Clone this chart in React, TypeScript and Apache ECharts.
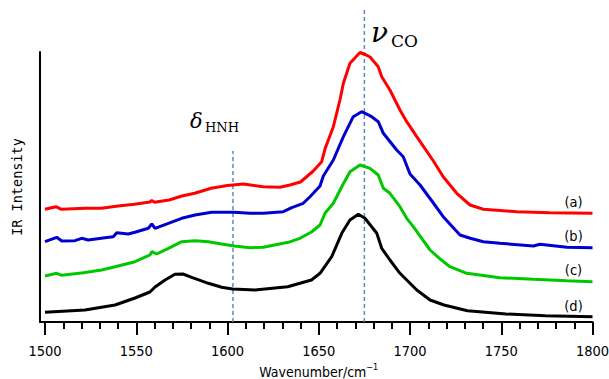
import React, { useEffect, useRef } from "react";
import * as echarts from "echarts";

// Wavenumber (cm^-1), intensity (arbitrary, offset stacked)
const seriesA: [number, number][] = [
  [1500, 112.7], [1506, 115.3], [1509, 112.7], [1522, 113.7], [1531, 113.7], [1540, 116], [1549, 117.7],
  [1557.5, 120], [1558.5, 121.5], [1560, 119.7], [1568, 122], [1575, 126], [1582, 128.7], [1591, 133.7],
  [1600, 136.5], [1608.7, 138], [1619.6, 135.3], [1628.8, 134.7], [1634.2, 137], [1640, 140], [1647, 151],
  [1651.6, 160.3], [1653.6, 174], [1658, 195.3], [1661.6, 222], [1663.5, 238.7], [1667.1, 258.7],
  [1672.6, 269.5], [1676, 267], [1678.1, 265], [1682.6, 255.3], [1684.5, 245.3], [1689, 232], [1694.5, 212],
  [1698.2, 200.3], [1703.7, 185.3], [1712.8, 161], [1718.2, 145.3], [1725.6, 128.7], [1732.9, 117],
  [1740.2, 112.7], [1758.5, 110.3], [1776.7, 109.3], [1800, 108.7],
];

const seriesB: [number, number][] = [
  [1500, 80.3], [1506.4, 84.7], [1509.2, 81], [1516.4, 81.3], [1520.1, 83.7], [1523.7, 82], [1532.9, 84.3],
  [1537.4, 85.3], [1539.3, 89.3], [1545.6, 88], [1549.3, 89.7], [1556.6, 93.7], [1558.5, 98], [1560.3, 93.7],
  [1567.6, 98.7], [1574.9, 103.7], [1582.2, 107], [1591.3, 109.7], [1603.7, 109.7], [1612.3, 108.7],
  [1619.6, 108.7], [1630.6, 110.3], [1635.2, 114.3], [1641.5, 118.7], [1645.2, 125.3], [1647, 128.7],
  [1650.7, 136], [1652.5, 146], [1658, 162], [1663.5, 185.3], [1668.9, 205.3], [1673.5, 210.3],
  [1679, 205.3], [1682.6, 200.3], [1685.4, 188.7], [1692.7, 172], [1696.3, 165.3], [1700, 148],
  [1705.5, 137], [1712.8, 119], [1718.2, 105.3], [1727.4, 87], [1733, 83.7], [1740.2, 80.3],
  [1749.3, 78.7], [1767.6, 76], [1771.2, 77.7], [1785.9, 74.7], [1800, 74.3],
];

const seriesC: [number, number][] = [
  [1500, 46], [1506.4, 48.7], [1509.2, 46.7], [1521, 49.3], [1531, 52], [1538.4, 55.3], [1549.3, 60.3],
  [1557.5, 67], [1558.5, 70.3], [1561.2, 68], [1567.6, 73.7], [1574.9, 80.3], [1582.2, 81.3], [1589.5, 80.3],
  [1596.8, 78], [1603.7, 76], [1612.3, 74.3], [1619.6, 74.7], [1633.3, 79.7], [1639.7, 83.7], [1646, 90],
  [1650.7, 97], [1653.4, 108.7], [1658, 118.7], [1662.6, 135.3], [1667.1, 150.3], [1672.6, 157],
  [1678.1, 153.7], [1682.6, 147], [1685.4, 133.7], [1689, 128.7], [1694.5, 115.3], [1698.2, 103.7],
  [1701.8, 95.3], [1711, 72], [1716.5, 63], [1721.9, 55.3], [1731.1, 48.7], [1749.3, 44.3], [1767.6, 42.7],
  [1785.9, 41.3], [1800, 40.3],
];

const seriesD: [number, number][] = [
  [1500, 9.7], [1521.9, 12], [1538.4, 17], [1549.3, 24], [1557.5, 30], [1560.3, 35], [1565.8, 42],
  [1571.2, 47.7], [1575.6, 48], [1580.4, 44.7], [1589.5, 38.7], [1596.8, 34.7], [1602.8, 33], [1615, 32],
  [1633, 35.3], [1639.7, 38.7], [1646, 42], [1650.7, 48.7], [1657.1, 65.3], [1662.6, 88.7], [1667.1, 102],
  [1671.7, 107.7], [1675.3, 103.7], [1681.8, 88.7], [1684.5, 73.7], [1689, 62], [1694.5, 48.7],
  [1698.2, 42], [1703.7, 32], [1711, 22], [1718.6, 17], [1731.5, 11.3], [1752.6, 8], [1774.2, 6.3],
  [1800, 5.3],
];

const seriesNames = ["(a)", "(b)", "(c)", "(d)"];
const seriesColors = ["#ff0000", "#0000cc", "#00c800", "#000000"];
// marker lines: [wavenumber, top value]
const deltaLine: [number, number][] = [[1603, 0], [1603, 171]];
const nuLine: [number, number][] = [[1675, 0], [1675, 313]];

const narrowFont = "'Liberation Sans Narrow', 'DejaVu Sans Condensed', 'Liberation Sans', sans-serif";

export default function App() {
  const ref = useRef<HTMLDivElement>(null);
  useEffect(() => {
    if (!ref.current) return;
    const chart = echarts.init(ref.current, null, { renderer: "svg" });
    const datasets = [seriesA, seriesB, seriesC, seriesD];
    const dashStyle = { color: "#5b8ac6", width: 1.5, type: [4, 3] as any };
    chart.setOption({
      animation: false,
      backgroundColor: "#ffffff",
      grid: { left: 45, right: 16.5, top: 52, bottom: 57, outerBoundsMode: "none", containLabel: false },
      xAxis: {
        type: "value",
        min: 1500,
        max: 1800,
        interval: 50,
        name: "Wavenumber/cm{sup|−1}",
        nameLocation: "middle",
        nameGap: 39,
        nameTextStyle: {
          fontFamily: narrowFont,
          fontSize: 14,
          color: "#000",
          rich: {
            sup: { fontFamily: narrowFont, fontSize: 9, verticalAlign: "top", padding: [0, 0, 9, 0], color: "#000" },
          },
        },
        axisLine: { lineStyle: { color: "#000", width: 2 } },
        axisTick: { show: true, inside: false, length: 13, lineStyle: { color: "#000", width: 2 } },
        minorTick: { show: true, splitNumber: 5, length: 7, lineStyle: { color: "#000", width: 2 } },
        axisLabel: { fontFamily: narrowFont, fontSize: 14.5, color: "#000", margin: 21, formatter: (v: number) => String(v) },
        splitLine: { show: false },
        minorSplitLine: { show: false },
      },
      yAxis: {
        type: "value",
        min: 0,
        max: 270,
        offset: 5,
        name: "IR Intensity",
        nameLocation: "middle",
        nameGap: 16,
        nameTextStyle: { fontFamily: "'DejaVu Sans Mono', monospace", fontSize: 13.5, color: "#000" },
        axisLine: { show: true, lineStyle: { color: "#000", width: 2 } },
        axisTick: { show: false },
        axisLabel: { show: false },
        splitLine: { show: false },
      },
      series: [
        ...[deltaLine, nuLine].map((d) => ({
          type: "line",
          data: d,
          showSymbol: false,
          symbol: "none",
          clip: false,
          silent: true,
          lineStyle: dashStyle,
          z: 1,
        })),
        ...datasets.map((d, i) => ({
          type: "line",
          name: seriesNames[i],
          data: d,
          showSymbol: false,
          symbol: "none",
          smooth: false,
          clip: false,
          lineStyle: { color: seriesColors[i], width: 3 },
          silent: true,
          z: 3 + (3 - i),
        })),
      ],
      graphic: [
        { type: "line", shape: { x1: 39, y1: 322, x2: 46, y2: 322 }, style: { stroke: "#000", lineWidth: 2 } },
        ...seriesNames.map((t, i) => ({
          type: "text",
          x: 573.5,
          y: [202, 235.5, 270, 305.5][i],
          style: { text: t, fontFamily: narrowFont, fontSize: 14.5, fill: "#000", align: "center", verticalAlign: "middle" },
        })),
        {
          type: "text",
          x: 190,
          y: 120.5,
          style: { text: "δ", fontFamily: "'DejaVu Serif', serif", fontStyle: "italic", fontSize: 21, fill: "#000", align: "left", verticalAlign: "middle" },
        },
        {
          type: "text",
          x: 205,
          y: 127.5,
          style: { text: "HNH", fontFamily: "'DejaVu Serif', serif", fontSize: 13, fill: "#000", align: "left", verticalAlign: "middle" },
        },
        {
          type: "text",
          x: 371,
          y: 32.5,
          style: { text: "ν", fontFamily: "'DejaVu Serif', serif", fontStyle: "italic", fontSize: 28, fill: "#000", align: "left", verticalAlign: "middle" },
        },
        {
          type: "text",
          x: 391,
          y: 41,
          style: { text: "CO", fontFamily: "'DejaVu Serif', serif", fontSize: 17, fill: "#000", align: "left", verticalAlign: "middle" },
        },
      ],
    });
    return () => chart.dispose();
  }, []);
  return <div ref={ref} style={{ width: 609, height: 379, position: "absolute", left: 0, top: 0 }} />;
}
